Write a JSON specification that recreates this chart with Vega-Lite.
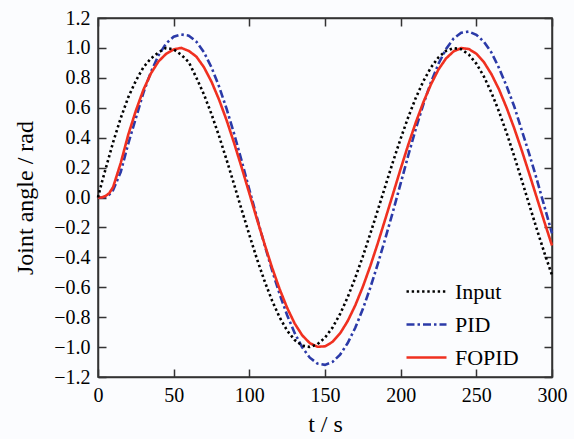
{
  "$schema": "https://vega.github.io/schema/vega-lite/v6.json",
  "width": 454,
  "height": 359,
  "autosize": {"type": "none"},
  "padding": {"left": 98, "top": 18, "right": 22, "bottom": 62},
  "background": "#fbfcfe",
  "config": {
    "font": "Liberation Serif",
    "view": {"stroke": "#333333", "strokeWidth": 1.5},
    "axis": {
      "domainColor": "#333333", "domainWidth": 1.5,
      "tickColor": "#333333", "tickWidth": 1.5, "tickSize": -8,
      "labelFont": "Liberation Serif", "labelFontSize": 20, "labelColor": "#000000",
      "titleFont": "Liberation Serif", "titleFontSize": 24, "titleFontWeight": "normal", "titleColor": "#000000",
      "grid": false, "labelPadding": 16, "labelFlush": false, "labelOverlap": false
    },
    "legend": {
      "labelFont": "Liberation Serif", "labelFontSize": 22, "labelColor": "#000000",
      "symbolType": "stroke", "symbolSize": 1600, "symbolStrokeWidth": 2.5,
      "labelOffset": 7, "rowPadding": -15
    }
  },
  "data": {"values": [
    {"t": 0, "Input": 0.00, "PID": 0.00, "FOPID": 0.00},
    {"t": 2.5, "Input": 0.10, "PID": 0.00, "FOPID": 0.00},
    {"t": 5, "Input": 0.19, "PID": 0.005, "FOPID": 0.01},
    {"t": 7.5, "Input": 0.28, "PID": 0.02, "FOPID": 0.03},
    {"t": 10, "Input": 0.37, "PID": 0.05, "FOPID": 0.07},
    {"t": 15, "Input": 0.53, "PID": 0.17, "FOPID": 0.23},
    {"t": 20, "Input": 0.67, "PID": 0.36, "FOPID": 0.42},
    {"t": 25, "Input": 0.78, "PID": 0.53, "FOPID": 0.58},
    {"t": 30, "Input": 0.87, "PID": 0.70, "FOPID": 0.72},
    {"t": 35, "Input": 0.93, "PID": 0.84, "FOPID": 0.83},
    {"t": 40, "Input": 0.97, "PID": 0.95, "FOPID": 0.91},
    {"t": 45, "Input": 1.00, "PID": 1.03, "FOPID": 0.96},
    {"t": 50, "Input": 0.99, "PID": 1.075, "FOPID": 0.99},
    {"t": 55, "Input": 0.954, "PID": 1.09, "FOPID": 1.00},
    {"t": 60, "Input": 0.905, "PID": 1.082, "FOPID": 0.98},
    {"t": 65, "Input": 0.801, "PID": 1.042, "FOPID": 0.942},
    {"t": 70, "Input": 0.689, "PID": 0.971, "FOPID": 0.871},
    {"t": 75, "Input": 0.557, "PID": 0.870, "FOPID": 0.774},
    {"t": 80, "Input": 0.410, "PID": 0.742, "FOPID": 0.654},
    {"t": 85, "Input": 0.251, "PID": 0.592, "FOPID": 0.516},
    {"t": 90, "Input": 0.085, "PID": 0.424, "FOPID": 0.362},
    {"t": 95, "Input": -0.084, "PID": 0.242, "FOPID": 0.198},
    {"t": 100, "Input": -0.250, "PID": 0.053, "FOPID": 0.028},
    {"t": 105, "Input": -0.410, "PID": -0.133, "FOPID": -0.144},
    {"t": 110, "Input": -0.557, "PID": -0.314, "FOPID": -0.310},
    {"t": 115, "Input": -0.689, "PID": -0.486, "FOPID": -0.468},
    {"t": 120, "Input": -0.801, "PID": -0.645, "FOPID": -0.612},
    {"t": 125, "Input": -0.890, "PID": -0.787, "FOPID": -0.738},
    {"t": 130, "Input": -0.953, "PID": -0.907, "FOPID": -0.843},
    {"t": 135, "Input": -0.991, "PID": -1.003, "FOPID": -0.922},
    {"t": 140, "Input": -0.999, "PID": -1.071, "FOPID": -0.974},
    {"t": 145, "Input": -0.981, "PID": -1.110, "FOPID": -0.998},
    {"t": 150, "Input": -0.937, "PID": -1.119, "FOPID": -0.995},
    {"t": 155, "Input": -0.869, "PID": -1.099, "FOPID": -0.965},
    {"t": 160, "Input": -0.778, "PID": -1.050, "FOPID": -0.908},
    {"t": 165, "Input": -0.666, "PID": -0.973, "FOPID": -0.826},
    {"t": 170, "Input": -0.537, "PID": -0.871, "FOPID": -0.721},
    {"t": 175, "Input": -0.394, "PID": -0.746, "FOPID": -0.597},
    {"t": 180, "Input": -0.240, "PID": -0.601, "FOPID": -0.456},
    {"t": 185, "Input": -0.081, "PID": -0.441, "FOPID": -0.302},
    {"t": 190, "Input": 0.081, "PID": -0.269, "FOPID": -0.139},
    {"t": 195, "Input": 0.241, "PID": -0.091, "FOPID": 0.026},
    {"t": 200, "Input": 0.394, "PID": 0.094, "FOPID": 0.192},
    {"t": 205, "Input": 0.537, "PID": 0.281, "FOPID": 0.352},
    {"t": 210, "Input": 0.666, "PID": 0.459, "FOPID": 0.502},
    {"t": 215, "Input": 0.778, "PID": 0.623, "FOPID": 0.637},
    {"t": 220, "Input": 0.869, "PID": 0.770, "FOPID": 0.756},
    {"t": 225, "Input": 0.937, "PID": 0.894, "FOPID": 0.856},
    {"t": 230, "Input": 0.981, "PID": 0.993, "FOPID": 0.930},
    {"t": 235, "Input": 0.999, "PID": 1.063, "FOPID": 0.977},
    {"t": 240, "Input": 0.991, "PID": 1.102, "FOPID": 0.999},
    {"t": 245, "Input": 0.956, "PID": 1.109, "FOPID": 0.993},
    {"t": 250, "Input": 0.895, "PID": 1.088, "FOPID": 0.961},
    {"t": 255, "Input": 0.809, "PID": 1.041, "FOPID": 0.905},
    {"t": 260, "Input": 0.701, "PID": 0.969, "FOPID": 0.824},
    {"t": 265, "Input": 0.574, "PID": 0.865, "FOPID": 0.722},
    {"t": 270, "Input": 0.432, "PID": 0.745, "FOPID": 0.600},
    {"t": 275, "Input": 0.277, "PID": 0.61, "FOPID": 0.464},
    {"t": 280, "Input": 0.116, "PID": 0.45, "FOPID": 0.315},
    {"t": 285, "Input": -0.049, "PID": 0.29, "FOPID": 0.158},
    {"t": 290, "Input": -0.213, "PID": 0.12, "FOPID": -0.003},
    {"t": 295, "Input": -0.371, "PID": -0.06, "FOPID": -0.164},
    {"t": 300, "Input": -0.519, "PID": -0.24, "FOPID": -0.321}
  ]},
  "transform": [{"fold": ["PID", "FOPID", "Input"], "as": ["series", "value"]}],
  "layer": [
    {
      "mark": {"type": "line", "strokeWidth": 2.6},
      "encoding": {
        "x": {"field": "t", "type": "quantitative",
              "scale": {"domain": [0, 300], "nice": false},
              "axis": {"values": [0, 50, 100, 150, 200, 250, 300], "title": "t / s", "titlePadding": 7}},
        "y": {"field": "value", "type": "quantitative",
              "scale": {"domain": [-1.2, 1.2], "nice": false},
              "axis": {"values": [-1.2, -1.0, -0.8, -0.6, -0.4, -0.2, 0, 0.2, 0.4, 0.6, 0.8, 1.0, 1.2], "format": ".1f", "title": "Joint angle / rad", "titlePadding": 16}},
        "color": {"field": "series", "type": "nominal",
                  "scale": {"domain": ["Input", "PID", "FOPID"], "range": ["#000000", "#2b3aa8", "#f03020"]},
                  "legend": {"orient": "none", "legendX": 307, "legendY": 252, "title": null}},
        "strokeDash": {"field": "series", "type": "nominal",
                  "scale": {"domain": ["Input", "PID", "FOPID"], "range": [[2.4, 2.8], [8, 3, 2.5, 3], [1, 0]]},
                  "legend": {"orient": "none", "legendX": 307, "legendY": 252, "title": null}}
      }
    },
    {
      "mark": {"type": "line", "strokeOpacity": 0},
      "encoding": {
        "x": {"field": "t", "type": "quantitative",
              "axis": {"orient": "top", "values": [0, 50, 100, 150, 200, 250, 300], "labels": false, "title": null}},
        "y": {"field": "value", "type": "quantitative",
              "axis": {"orient": "right", "values": [-1.2, -1.0, -0.8, -0.6, -0.4, -0.2, 0, 0.2, 0.4, 0.6, 0.8, 1.0, 1.2], "labels": false, "title": null}}
      }
    }
  ],
  "resolve": {"axis": {"x": "independent", "y": "independent"}}
}
